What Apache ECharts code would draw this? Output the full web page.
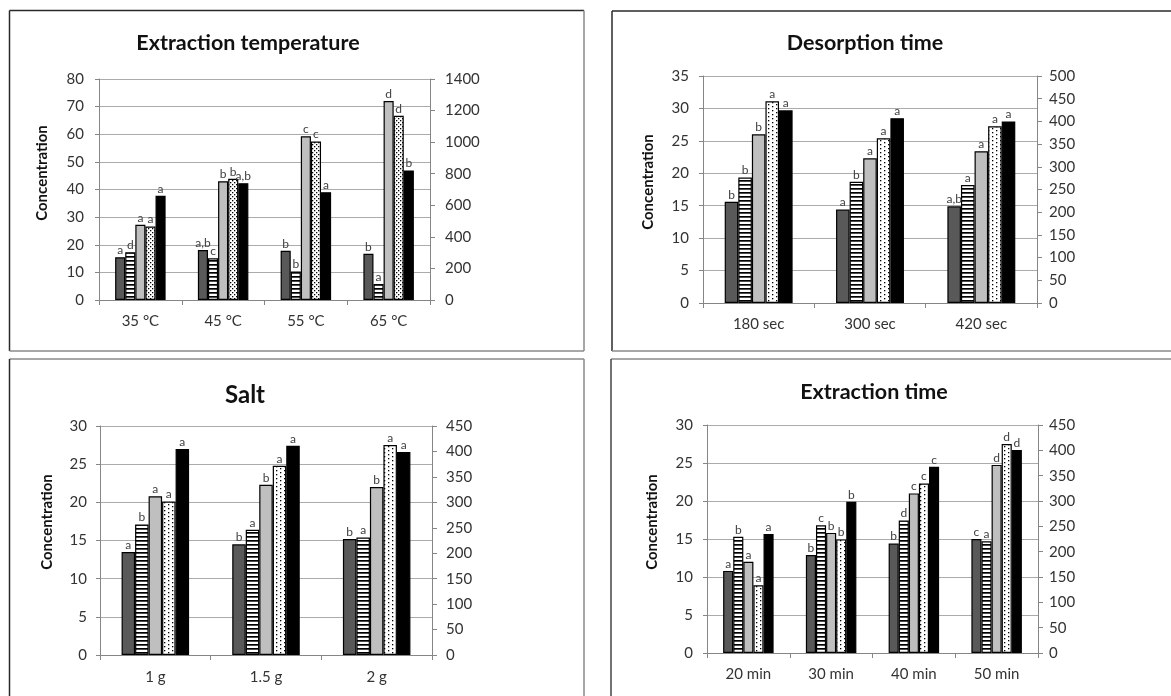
<!DOCTYPE html>
<html><head><meta charset="utf-8">
<script src="https://cdn.jsdelivr.net/npm/echarts@6/dist/echarts.min.js"></script>
<style>html,body{margin:0;padding:0;background:#fff}#c{width:1171px;height:696px}</style>
</head><body><div id="c"></div>
<script>
// ---------- DATA ----------
// Panel 1: Extraction temperature
const tempCategories = ['35 °C', '45 °C', '55 °C', '65 °C'];
const tempDark   = [15.5, 18.1, 17.8, 16.7];
const tempStripe = [17.3, 15.1, 10.3, 5.8];
const tempLight  = [27.2, 43.0, 59.3, 72.0];
const tempDotted = [26.6, 43.9, 57.4, 66.7];
const tempBlack  = [37.7, 42.3, 39.0, 46.9];
const tempLetters = [
  ['a', 'a,b', 'b', 'b'],
  ['d', 'c', 'b', 'a'],
  ['a', 'b', 'c', 'd'],
  ['a', 'b', 'c', 'd'],
  ['a', 'a,b', 'a', 'b']
];
const tempLeftAxis = [0, 80, 10];
const tempRightAxis = [0, 1400, 200];

// Panel 2: Desorption time
const desCategories = ['180 sec', '300 sec', '420 sec'];
const desDark   = [15.6, 14.4, 14.9];
const desStripe = [19.35, 18.7, 18.2];
const desLight  = [26.0, 22.3, 23.4];
const desDotted = [31.1, 25.4, 27.25];
const desBlack  = [29.7, 28.5, 28.0];
const desLetters = [
  ['b', 'a', 'a,b'],
  ['b', 'b', 'a'],
  ['b', 'a', 'a'],
  ['a', 'a', 'a'],
  ['a', 'a', 'a']
];
const desLeftAxis = [0, 35, 5];
const desRightAxis = [0, 500, 50];

// Panel 3: Salt
const saltCategories = ['1 g', '1.5 g', '2 g'];
const saltDark   = [13.5, 14.5, 15.2];
const saltStripe = [17.1, 16.4, 15.4];
const saltLight  = [20.8, 22.3, 22.0];
const saltDotted = [20.1, 24.8, 27.5];
const saltBlack  = [27.0, 27.4, 26.6];
const saltLetters = [
  ['a', 'b', 'b'],
  ['b', 'a', 'a'],
  ['a', 'b', 'b'],
  ['a', 'a', 'a'],
  ['a', 'a', 'a']
];
const saltLeftAxis = [0, 30, 5];
const saltRightAxis = [0, 450, 50];

// Panel 4: Extraction time
const timeCategories = ['20 min', '30 min', '40 min', '50 min'];
const timeDark   = [10.8, 12.9, 14.4, 15.0];
const timeStripe = [15.3, 16.8, 17.45, 14.7];
const timeLight  = [12.0, 15.8, 21.0, 24.75];
const timeDotted = [8.9, 14.95, 22.3, 27.5];
const timeBlack  = [15.65, 19.9, 24.5, 26.7];
const timeLetters = [
  ['a', 'b', 'b', 'c'],
  ['b', 'c', 'd', 'a'],
  ['a', 'b', 'c', 'd'],
  ['a', 'b', 'c', 'd'],
  ['a', 'b', 'c', 'd']
];
const timeLeftAxis = [0, 30, 5];
const timeRightAxis = [0, 450, 50];

const panelTitles = ['Extraction temperature', 'Desorption time', 'Salt', 'Extraction time'];
const yName = 'Concentration';

// ---------- PATTERNS ----------
function makeCanvas(w, h, draw) {
  const c = document.createElement('canvas');
  c.width = w; c.height = h;
  const ctx = c.getContext('2d');
  ctx.fillStyle = '#ffffff'; ctx.fillRect(0, 0, w, h);
  ctx.fillStyle = '#000000';
  draw(ctx);
  return c;
}
const stripeImg = makeCanvas(4, 4, ctx => ctx.fillRect(0, 0, 4, 1.7));
const denseDotImg = makeCanvas(4, 4, ctx => { ctx.fillRect(0, 0, 1.3, 1.3); ctx.fillRect(2, 2, 1.3, 1.3); });
const sparseDotImg = makeCanvas(8, 4, ctx => { ctx.fillRect(0, 0, 1.3, 1.3); ctx.fillRect(4, 2, 1.3, 1.3); });

// ---------- BUILD ----------
const FONT = 'Lato, "Open Sans", sans-serif';
const AXC = '#868686';
const LBL = 15;
const panels = [
  { cats: tempCategories, vals: [tempDark, tempStripe, tempLight, tempDotted, tempBlack], letters: tempLetters,
    left: tempLeftAxis, right: tempRightAxis, dot: denseDotImg,
    grid: { left: 99, top: 79, width: 331, height: 221 }, lm: 15, rm: 15, xm: 14 },
  { cats: desCategories, vals: [desDark, desStripe, desLight, desDotted, desBlack], letters: desLetters,
    left: desLeftAxis, right: desRightAxis, dot: sparseDotImg,
    grid: { left: 703, top: 76, width: 334, height: 227 }, lm: 14, rm: 12, xm: 14 },
  { cats: saltCategories, vals: [saltDark, saltStripe, saltLight, saltDotted, saltBlack], letters: saltLetters,
    left: saltLeftAxis, right: saltRightAxis, dot: sparseDotImg,
    grid: { left: 100, top: 426, width: 332, height: 229 }, lm: 13, rm: 14, xm: 15 },
  { cats: timeCategories, vals: [timeDark, timeStripe, timeLight, timeDotted, timeBlack], letters: timeLetters,
    left: timeLeftAxis, right: timeRightAxis, dot: sparseDotImg,
    grid: { left: 707, top: 425, width: 331, height: 228 }, lm: 14, rm: 11, xm: 14 }
];

const grids = [], xAxes = [], yAxes = [], series = [];
const plain = (v) => String(v);
panels.forEach((p, i) => {
  grids.push(Object.assign({ containLabel: false }, p.grid));
  xAxes.push({
    gridIndex: i, type: 'category', data: p.cats,
    axisLine: { lineStyle: { color: AXC, width: 1 } },
    axisTick: { show: true, length: 5, lineStyle: { color: AXC } },
    axisLabel: { color: '#333', fontSize: LBL, fontFamily: FONT, margin: p.xm },
    splitLine: { show: false }
  });
  yAxes.push({
    gridIndex: i, type: 'value', position: 'left', min: p.left[0], max: p.left[1], interval: p.left[2],
    axisLine: { show: true, lineStyle: { color: AXC } },
    axisTick: { show: true, length: 4, lineStyle: { color: AXC } },
    axisLabel: { color: '#333', fontSize: LBL, fontFamily: FONT, margin: p.lm, formatter: plain },
    splitLine: { show: true, lineStyle: { color: '#ababab', width: 1 } }
  });
  yAxes.push({
    gridIndex: i, type: 'value', position: 'right', min: p.right[0], max: p.right[1], interval: p.right[2],
    axisLine: { show: true, lineStyle: { color: AXC } },
    axisTick: { show: true, length: 5, lineStyle: { color: AXC } },
    axisLabel: { color: '#333', fontSize: LBL, fontFamily: FONT, margin: p.rm, formatter: plain },
    splitLine: { show: false }
  });
  const fills = ['#595959', { image: stripeImg, repeat: 'repeat' }, '#bfbfbf', { image: p.dot, repeat: 'repeat' }, '#000000'];
  p.vals.forEach((v, s) => {
    series.push({
      type: 'bar', name: 'S' + (s + 1), xAxisIndex: i, yAxisIndex: i * 2, data: v,
      barGap: '0%', barCategoryGap: '39%',
      itemStyle: { color: fills[s], borderColor: '#000', borderWidth: 1.2 },
      label: {
        show: true, position: 'top', distance: 1, fontSize: 12, fontFamily: FONT, color: '#404040',
        formatter: (q) => p.letters[s][q.dataIndex]
      },
      animation: false
    });
  });
});

const titlePos = [[248, 43, 21.5], [865, 43, 21.5], [245, 395, 24], [874, 392, 21.5]];
const namePos = [[42, 173], [648, 182], [47, 522], [652, 522]];
const graphics = [];
titlePos.forEach((t, i) => {
  graphics.push({ type: 'text', x: t[0], y: t[1], silent: true,
    style: { text: panelTitles[i], fill: '#111', font: 'bold ' + t[2] + 'px ' + FONT,
      textAlign: 'center', textVerticalAlign: 'middle', align: 'center', verticalAlign: 'middle' } });
});
namePos.forEach((t) => {
  graphics.push({ type: 'text', x: t[0], y: t[1], rotation: Math.PI / 2, silent: true,
    style: { text: yName, fill: '#111', font: 'bold 15px ' + FONT,
      textAlign: 'center', textVerticalAlign: 'middle', align: 'center', verticalAlign: 'middle' } });
});
function ln(x1, y1, x2, y2, c) {
  graphics.push({ type: 'line', silent: true, shape: { x1, y1, x2, y2 }, style: { stroke: c, lineWidth: 1.5 } });
}
const DK = '#2a2a2a', LG = '#8a8a8a';
// top-left panel
ln(9.5, 10.5, 584, 10.5, DK); ln(9.5, 10.5, 9.5, 351, DK); ln(584, 10.5, 584, 351, LG); ln(9.5, 351, 584, 351, LG);
// top-right panel
ln(612, 11, 1175, 11, DK); ln(612, 11, 612, 351, DK); ln(612, 351, 1175, 351, LG);
// bottom-left panel
ln(9.5, 359, 584, 359, LG); ln(9.5, 359, 9.5, 700, DK); ln(584, 359, 584, 700, LG);
// bottom-right panel
ln(611, 359, 1175, 359, LG); ln(611, 359, 611, 700, '#444');

const chart = echarts.init(document.getElementById('c'), null, { renderer: 'canvas' });
chart.setOption({
  backgroundColor: '#ffffff',
  animation: false,
  grid: grids, xAxis: xAxes, yAxis: yAxes, series: series,
  graphic: graphics
});
</script>
</body></html>
